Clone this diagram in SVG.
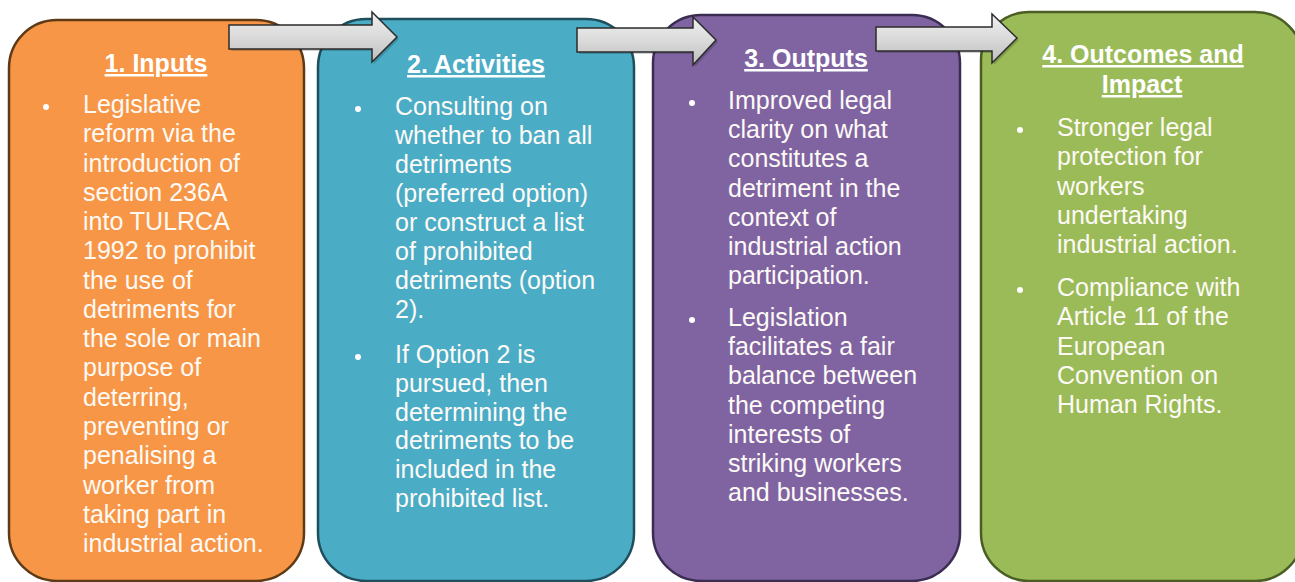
<svg xmlns="http://www.w3.org/2000/svg" width="1295" height="582" viewBox="0 0 1295 582">
  <style>
    .box { stroke-width: 2.5; }
    .title { font-family: "Liberation Sans", Arial, sans-serif; font-size: 25px; font-weight: bold; fill: #ffffff; text-anchor: middle; text-decoration: underline; }
    .body { font-family: "Liberation Sans", Arial, sans-serif; font-size: 25px; fill: #fdfaf6; }
    .bullet { fill: #ffffff; }
    .arrow { fill: url(#arrowFill); stroke: #2b2b2b; stroke-width: 1.5; stroke-linejoin: miter; }
    .arrowShadow { fill: #000000; opacity: 0.18; }
  </style>
  <defs>
    <linearGradient id="arrowFill" x1="0" y1="0" x2="0" y2="1">
      <stop offset="0" stop-color="#f0f0f0"/>
      <stop offset="0.5" stop-color="#dadada"/>
      <stop offset="1" stop-color="#bdbdbd"/>
    </linearGradient>
  </defs>

  <rect width="1295" height="582" fill="#ffffff"/>

  <!-- Stage 1 -->
  <g id="inputs">
    <rect class="box" x="9" y="20" width="295" height="561" rx="48" fill="#f79646" stroke="#5e3a17"/>
    <text class="title" x="156" y="72">1. Inputs</text>
    <circle class="bullet" cx="46" cy="107" r="3"/>
    <text class="body" x="83">
      <tspan x="83" y="113">Legislative</tspan>
      <tspan x="83" y="142.3">reform via the</tspan>
      <tspan x="83" y="171.5">introduction of</tspan>
      <tspan x="83" y="200.8">section 236A</tspan>
      <tspan x="83" y="230.1">into TULRCA</tspan>
      <tspan x="83" y="259.4">1992 to prohibit</tspan>
      <tspan x="83" y="288.6">the use of</tspan>
      <tspan x="83" y="317.9">detriments for</tspan>
      <tspan x="83" y="347.2">the sole or main</tspan>
      <tspan x="83" y="376.4">purpose of</tspan>
      <tspan x="83" y="405.7">deterring,</tspan>
      <tspan x="83" y="435">preventing or</tspan>
      <tspan x="83" y="464.2">penalising a</tspan>
      <tspan x="83" y="493.5">worker from</tspan>
      <tspan x="83" y="522.8">taking part in</tspan>
      <tspan x="83" y="552">industrial action.</tspan>
    </text>
  </g>

  <!-- Stage 2 -->
  <g id="activities">
    <rect class="box" x="318" y="19" width="316" height="562" rx="48" fill="#4bacc6" stroke="#1f4f5c"/>
    <text class="title" x="476" y="73">2. Activities</text>
    <circle class="bullet" cx="358" cy="109" r="3"/>
    <text class="body">
      <tspan x="395" y="115">Consulting on</tspan>
      <tspan x="395" y="144">whether to ban all</tspan>
      <tspan x="395" y="173">detriments</tspan>
      <tspan x="395" y="202">(preferred option)</tspan>
      <tspan x="395" y="231">or construct a list</tspan>
      <tspan x="395" y="260">of prohibited</tspan>
      <tspan x="395" y="289">detriments (option</tspan>
      <tspan x="395" y="318">2).</tspan>
    </text>
    <circle class="bullet" cx="358" cy="357" r="3"/>
    <text class="body">
      <tspan x="395" y="363">If Option 2 is</tspan>
      <tspan x="395" y="391.8">pursued, then</tspan>
      <tspan x="395" y="420.6">determining the</tspan>
      <tspan x="395" y="449.4">detriments to be</tspan>
      <tspan x="395" y="478.2">included in the</tspan>
      <tspan x="395" y="507">prohibited list.</tspan>
    </text>
  </g>

  <!-- Stage 3 -->
  <g id="outputs">
    <rect class="box" x="653" y="15" width="307" height="566" rx="48" fill="#8064a2" stroke="#3b2d52"/>
    <text class="title" x="806" y="67">3. Outputs</text>
    <circle class="bullet" cx="692" cy="103" r="3"/>
    <text class="body">
      <tspan x="728" y="109">Improved legal</tspan>
      <tspan x="728" y="138.2">clarity on what</tspan>
      <tspan x="728" y="167.4">constitutes a</tspan>
      <tspan x="728" y="196.6">detriment in the</tspan>
      <tspan x="728" y="225.8">context of</tspan>
      <tspan x="728" y="255">industrial action</tspan>
      <tspan x="728" y="284.2">participation.</tspan>
    </text>
    <circle class="bullet" cx="692" cy="320" r="3"/>
    <text class="body">
      <tspan x="728" y="326">Legislation</tspan>
      <tspan x="728" y="355.2">facilitates a fair</tspan>
      <tspan x="728" y="384.4">balance between</tspan>
      <tspan x="728" y="413.6">the competing</tspan>
      <tspan x="728" y="442.8">interests of</tspan>
      <tspan x="728" y="472">striking workers</tspan>
      <tspan x="728" y="501.2">and businesses.</tspan>
    </text>
  </g>

  <!-- Stage 4 -->
  <g id="outcomes">
    <rect class="box" x="981" y="12" width="322" height="569" rx="48" fill="#9bbb59" stroke="#4a5e23"/>
    <text class="title" x="1143" y="63">4. Outcomes and</text>
    <text class="title" x="1142" y="93">Impact</text>
    <circle class="bullet" cx="1020" cy="130" r="3"/>
    <text class="body">
      <tspan x="1057" y="136">Stronger legal</tspan>
      <tspan x="1057" y="165.3">protection for</tspan>
      <tspan x="1057" y="194.5">workers</tspan>
      <tspan x="1057" y="223.8">undertaking</tspan>
      <tspan x="1057" y="253">industrial action.</tspan>
    </text>
    <circle class="bullet" cx="1020" cy="290" r="3"/>
    <text class="body">
      <tspan x="1057" y="296">Compliance with</tspan>
      <tspan x="1057" y="325.3">Article 11 of the</tspan>
      <tspan x="1057" y="354.5">European</tspan>
      <tspan x="1057" y="383.8">Convention on</tspan>
      <tspan x="1057" y="413">Human Rights.</tspan>
    </text>
  </g>

  <!-- Block arrows between stages -->
  <g id="connectors">
    <polygon class="arrowShadow" points="231,27 374,27 374,14 399,39 374,64 374,51 231,51"/>
    <polygon class="arrow" points="229,25 372,25 372,12 397,37 372,62 372,49 229,49"/>
    <polygon class="arrowShadow" points="579,30 695,30 695,19 718,42 695,67 695,54 579,54"/>
    <polygon class="arrow" points="577,28 693,28 693,17 716,40 693,65 693,52 577,52"/>
    <polygon class="arrowShadow" points="878,29 994,29 994,16 1019,40 994,65 994,53 878,53"/>
    <polygon class="arrow" points="876,27 992,27 992,14 1017,38 992,63 992,51 876,51"/>
  </g>
</svg>
